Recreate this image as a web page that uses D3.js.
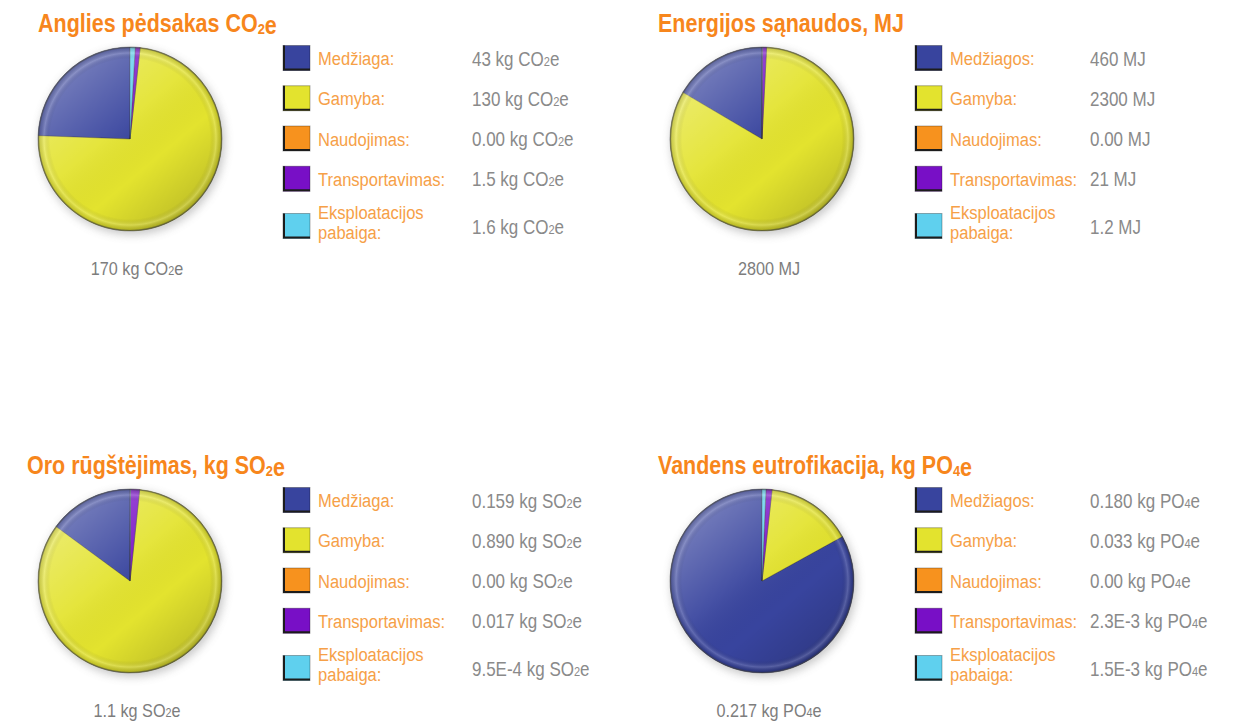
<!DOCTYPE html>
<html>
<head>
<meta charset="utf-8">
<script src="https://cdn.jsdelivr.net/npm/d3@7"></script>
<style>
  body { margin: 0; background: #fff; }
  svg { display: block; font-family: "Liberation Sans", Arial, sans-serif; }
</style>
</head>
<body>
<svg id="chart" width="1238" height="724"></svg>
<script>
// Life-cycle stages (legend labels)
const stagesSingular = ["Medžiaga:", "Gamyba:", "Naudojimas:", "Transportavimas:", "Eksploatacijos\npabaiga:"];
const stagesPlural   = ["Medžiagos:", "Gamyba:", "Naudojimas:", "Transportavimas:", "Eksploatacijos\npabaiga:"];
const stageColors    = ["#38449e", "#e3e32e", "#f7921e", "#780fc6", "#5fd0ee"];

// Indicator titles, units and totals
const titles = ["Anglies pėdsakas CO₂e", "Energijos sąnaudos, MJ", "Oro rūgštėjimas, kg SO₂e", "Vandens eutrofikacija, kg PO₄e"];
const units  = ["kg CO₂e", "MJ", "kg SO₂e", "kg PO₄e"];
const totals = ["170", "2800", "1.1", "0.217"];

// Values per stage (as printed in the legend)
const carbonValues = ["43", "130", "0.00", "1.5", "1.6"];
const energyValues = ["460", "2300", "0.00", "21", "1.2"];
const acidValues   = ["0.159", "0.890", "0.00", "0.017", "9.5E-4"];
const eutroValues  = ["0.180", "0.033", "0.00", "2.3E-3", "1.5E-3"];

const panels = [
  { title: titles[0], stages: stagesSingular, values: carbonValues, unit: units[0], total: totals[0], ox: 0,   oy: 0,   titleX: 38, valueX: 472 },
  { title: titles[1], stages: stagesPlural,   values: energyValues, unit: units[1], total: totals[1], ox: 632, oy: 0,   titleX: 26, valueX: 458 },
  { title: titles[2], stages: stagesSingular, values: acidValues,   unit: units[2], total: totals[2], ox: 0,   oy: 442, titleX: 27, valueX: 472 },
  { title: titles[3], stages: stagesPlural,   values: eutroValues,  unit: units[3], total: totals[3], ox: 632, oy: 442, titleX: 26, valueX: 458 }
];

const svg = d3.select("#chart");
const R = 92;
const pieCx = 130, pieCy = 139;

// ---- shared defs: lighting, bevel, shadow
const defs = svg.append("defs");
const light = defs.append("linearGradient").attr("id", "light")
  .attr("x1", "0.12").attr("y1", "0.08").attr("x2", "0.85").attr("y2", "0.95");
[[0, "#fff", 0.34], [0.42, "#fff", 0.07], [0.65, "#000", 0], [1, "#000", 0.18]].forEach(([o, c, a]) =>
  light.append("stop").attr("offset", o).attr("stop-color", c).attr("stop-opacity", a));

const rim = defs.append("radialGradient").attr("id", "rim");
[[0, "#000", 0], [0.87, "#000", 0], [0.935, "#fff", 0.18], [0.98, "#000", 0.12], [1, "#000", 0.38]].forEach(([o, c, a]) =>
  rim.append("stop").attr("offset", o).attr("stop-color", c).attr("stop-opacity", a));

const shadow = defs.append("filter").attr("id", "shadow")
  .attr("x", "-30%").attr("y", "-30%").attr("width", "160%").attr("height", "160%");
shadow.append("feGaussianBlur").attr("stdDeviation", 4);

// ---- helpers
const subMap = { "₀": "0", "₁": "1", "₂": "2", "₃": "3", "₄": "4" };
function richText(textSel, str, subSize, subDy) {
  str.split(/([₀-₄]+)/).filter(s => s.length).forEach(part => {
    if (/^[₀-₄]+$/.test(part)) {
      textSel.append("tspan")
        .attr("font-size", subSize)
        .attr("dy", subDy)
        .text(part.replace(/[₀-₄]/g, ch => subMap[ch]));
      textSel.append("tspan").attr("dy", -subDy).text("");
    } else {
      textSel.append("tspan").text(part);
    }
  });
}

const pie = d3.pie().sort(null).startAngle(0).endAngle(-2 * Math.PI).value(d => +d);
const arc = d3.arc().innerRadius(0).outerRadius(R);

// row positions in the legend
const rowY = d3.scaleLinear().domain([0, 4]).range([58, 219]);
const rowCenter = i => rowY(i) + (i === 4 ? 7 : 0);

panels.forEach(p => {
  const g = svg.append("g").attr("transform", `translate(${p.ox},${p.oy})`);

  // title
  const t = g.append("text")
    .attr("transform", `translate(${p.titleX},32) scale(0.86,1)`)
    .attr("font-size", 25).attr("font-weight", "bold").attr("fill", "#f7861c");
  richText(t, p.title, 15, 2);

  // pie
  const pg = g.append("g").attr("transform", `translate(${pieCx},${pieCy})`);
  pg.append("circle").attr("cx", 2).attr("cy", 3).attr("r", R + 1)
    .attr("fill", "#8a8a8a").attr("opacity", 0.45).attr("filter", "url(#shadow)");
  const arcs = pie(p.values).filter(a => a.value > 0);
  pg.selectAll("path.slice").data(arcs).join("path")
    .attr("class", "slice")
    .attr("d", arc)
    .attr("fill", d => stageColors[d.index])
    .attr("stroke", "rgba(40,40,40,0.5)")
    .attr("stroke-width", 0.7)
    .attr("stroke-linejoin", "round");
  pg.append("circle").attr("r", R).attr("fill", "url(#light)");
  pg.append("circle").attr("r", R).attr("fill", "url(#rim)");
  pg.append("circle").attr("r", R - 0.5).attr("fill", "none")
    .attr("stroke", "rgba(80,80,80,0.45)").attr("stroke-width", 1.2);

  // total under the pie
  const tt = g.append("text")
    .attr("transform", `translate(${pieCx + 7},275) scale(0.9,1)`)
    .attr("text-anchor", "middle").attr("font-size", 18).attr("fill", "#7d7d7d");
  richText(tt, `${p.total} ${p.unit}`, 12, 0);

  // legend
  p.stages.forEach((name, i) => {
    const cy = rowCenter(i);
    const sx = 283, sw = 27, sh = 25;
    g.append("rect").attr("x", sx).attr("y", cy - sh / 2).attr("width", sw).attr("height", sh)
      .attr("fill", stageColors[i]).attr("stroke", "rgba(0,0,0,0.3)").attr("stroke-width", 1);
    g.append("path")
      .attr("d", `M${sx + 1},${cy - sh / 2}V${cy + sh / 2 - 1}H${sx + sw}`)
      .attr("fill", "none").attr("stroke", "#1c1c1c").attr("stroke-width", 2);

    const lines = name.split("\n");
    lines.forEach((ln, k) => {
      const by = lines.length === 1 ? cy + 7 : cy - 7.5 + k * 20;
      g.append("text")
        .attr("transform", `translate(318,${by}) scale(0.87,1)`)
        .attr("font-size", 19).attr("fill", "#f6a047")
        .text(ln);
    });

    const vt = g.append("text")
      .attr("transform", `translate(${p.valueX},${cy + 7.5}) scale(0.85,1)`)
      .attr("font-size", 20).attr("fill", "#8a8a8a");
    richText(vt, `${p.values[i]} ${p.unit}`, 13, 0);
  });
});
</script>
</body>
</html>
